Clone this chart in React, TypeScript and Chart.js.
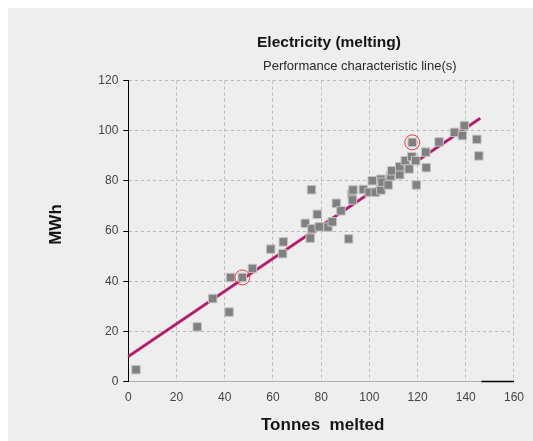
import React, { useEffect, useRef } from "react";
import { Chart, registerables } from "chart.js";

Chart.register(...registerables);

const chartTitle = "Electricity (melting)";
const chartSubtitle = "Performance characteristic line(s)";
const xAxisTitle = "Tonnes  melted";
const yAxisTitle = "MWh";

const xMin = 0;
const xMax = 160;
const xStep = 20;
const yMin = 0;
const yMax = 120;
const yStep = 20;

// measured points: tonnes melted
const tonnes = [
  3.2, 28.6, 35.0, 41.8, 42.4, 47.3, 51.5, 59.1, 64.0, 64.3,
  73.4, 75.5, 76.0, 76.2, 78.4, 79.2, 82.8, 84.6, 86.3, 88.2,
  91.4, 92.7, 93.0, 93.2, 97.5, 99.9, 101.2, 102.5, 104.8, 104.8,
  105.3, 107.8, 108.8, 109.3, 112.6, 112.6, 114.9, 116.5, 117.6, 117.8,
  119.2, 119.5, 123.4, 123.6, 128.9, 135.3, 138.6, 139.4, 144.6, 145.4,
];
// measured points: MWh
const mwh = [
  4.7, 21.8, 33.1, 27.7, 41.5, 41.5, 45.1, 52.8, 51.0, 55.7,
  63.1, 57.2, 76.5, 60.9, 66.7, 61.7, 61.6, 63.7, 71.1, 68.1,
  56.9, 74.8, 72.4, 76.4, 76.6, 75.5, 80.1, 75.5, 76.4, 80.7,
  79.5, 78.4, 82.0, 84.1, 82.5, 85.7, 88.1, 84.8, 89.7, 95.4,
  88.1, 78.4, 91.5, 85.3, 95.6, 99.4, 98.1, 102.1, 96.6, 90.0,
];

// highlighted (circled) points
const markedTonnes = [47.3, 117.8];
const markedMwh = [41.5, 95.4];

// performance characteristic line endpoints
const lineTonnes = [0, 146];
const lineMwh = [10, 105];

// dark segment at the bottom of the axis
const segTonnes = [146.5, 160];
const segMwh = [0, 0];

const BG = "#eeeeee";

const zip = (xs: number[], ys: number[]) => xs.map((x, i) => ({ x, y: ys[i] }));

const textPlugin = {
  id: "texts",
  afterDraw(chart: any) {
    const ctx = chart.ctx as CanvasRenderingContext2D;
    ctx.save();
    ctx.fillStyle = "#151515";
    ctx.textBaseline = "alphabetic";
    ctx.textAlign = "left";
    ctx.font = "bold 15.5px 'Liberation Sans', Arial, sans-serif";
    ctx.fillText(chartTitle, 249, 38.7);
    ctx.fillStyle = "#2a2a2a";
    ctx.font = "13px 'Liberation Sans', Arial, sans-serif";
    ctx.fillText(chartSubtitle, 255, 62);

    ctx.fillStyle = "#151515";
    ctx.font = "bold 17px 'Liberation Sans', Arial, sans-serif";
    ctx.textAlign = "center";
    ctx.textBaseline = "middle";
    ctx.fillText(xAxisTitle, 314.7, 417);
    ctx.translate(48.5, 216.5);
    ctx.rotate(-Math.PI / 2);
    ctx.fillText(yAxisTitle, 0, 0);
    ctx.restore();
  },
};

export default function App() {
  const ref = useRef<HTMLCanvasElement | null>(null);

  useEffect(() => {
    const canvas = ref.current;
    if (!canvas) return;
    const chart = new Chart(canvas, {
      type: "scatter",
      data: {
        datasets: [
          {
            type: "scatter",
            label: "marked",
            data: zip(markedTonnes, markedMwh),
            pointStyle: "circle",
            pointRadius: 7.5,
            backgroundColor: "rgba(0,0,0,0)",
            borderColor: "#e03a3a",
            borderWidth: 1,
            order: 0,
            clip: false,
          },
          {
            type: "scatter",
            label: "measured",
            data: zip(tonnes, mwh),
            pointStyle: "rect",
            pointRadius: 6,
            backgroundColor: "#808080",
            borderColor: "#c4c4c4",
            borderWidth: 1,
            order: 1,
            clip: false,
          },
          {
            type: "line",
            label: "line-blue",
            data: zip(lineTonnes, lineMwh),
            borderColor: "#3a2fc8",
            borderWidth: 1,
            pointRadius: 0,
            fill: false,
            order: 2,
            clip: false,
          },
          {
            type: "line",
            label: "line-red",
            data: zip(lineTonnes, lineMwh),
            borderColor: "#e8204a",
            borderWidth: 3,
            pointRadius: 0,
            fill: false,
            order: 3,
            clip: false,
          },
          {
            type: "line",
            label: "segment",
            data: zip(segTonnes, segMwh),
            borderColor: "#000000",
            borderWidth: 1.5,
            pointRadius: 0,
            fill: false,
            order: 4,
            clip: false,
          },
        ],
      },
      options: {
        responsive: false,
        animation: false,
        devicePixelRatio: 1,
        layout: { padding: { top: 72.7, right: 16.3, left: 0, bottom: 0 } },
        plugins: {
          legend: { display: false },
          title: { display: false },
          tooltip: { enabled: false },
        },
        scales: {
          x: {
            type: "linear",
            min: xMin,
            max: xMax,
            afterFit: (s: any) => {
              s.height = 59.5;
            },
            ticks: {
              stepSize: xStep,
              color: "#444",
              font: { family: "'Liberation Sans', Arial, sans-serif", size: 12 },
              padding: 9,
              maxRotation: 0,
            },
            grid: {
              color: "#b8b8b8",
              lineWidth: 1,
              drawTicks: false,
            },
            border: { color: "#b0b0b0", width: 1, dash: [3, 3] },
          },
          y: {
            type: "linear",
            min: yMin,
            max: yMax,
            afterFit: (s: any) => {
              s.width = 120.3;
            },
            ticks: {
              stepSize: yStep,
              color: "#444",
              font: { family: "'Liberation Sans', Arial, sans-serif", size: 12 },
              padding: 5,
            },
            grid: {
              color: "#b8b8b8",
              lineWidth: 1,
              drawTicks: true,
              tickLength: 5,
              tickColor: "#000",
              tickBorderDash: [],
            },
            border: { color: "#000", width: 1, dash: [3, 3] },
          },
        },
      },
      plugins: [textPlugin],
    } as any);
    return () => chart.destroy();
  }, []);

  return (
    <div
      style={{
        position: "fixed",
        left: 8,
        top: 8,
        width: 525,
        height: 433,
        background: BG,
        overflow: "hidden",
      }}
    >
      <canvas
        ref={ref}
        width={525}
        height={433}
        style={{ display: "block", width: 525, height: 433 }}
      />
    </div>
  );
}
